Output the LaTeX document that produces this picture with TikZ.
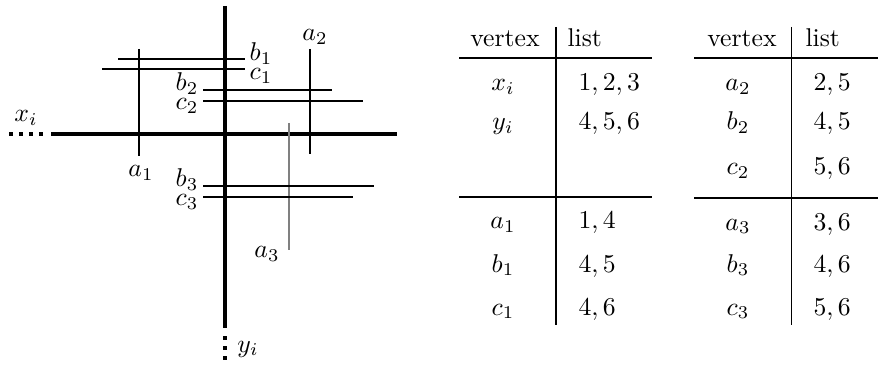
\documentclass[tikz,border=0pt]{standalone}
\begin{document}
\begin{tikzpicture}[x=0.389pt,y=-0.389pt,
  seg/.style={line width=0.4pt},
  axis/.style={line width=1.2pt},
  dotline/.style={line width=1.2pt,dash pattern=on 1.5pt off 2.45pt},
  lbl/.style={inner sep=0pt},
  cell/.style={inner sep=0pt,anchor=base},
  lcell/.style={inner sep=0pt,anchor=base west},
  rule/.style={line width=0.4pt}]
\useasboundingbox (0,0) rectangle (878,367);
% ---------- left figure ----------
% axes
\draw[axis] (51,134) -- (397,134);
\draw[dotline] (9,134) -- (48,134);
\draw[axis] (225,6) -- (225,328);
\draw[dotline] (225,336) -- (225,363);
\node[lbl] (xi) at (26,118) {$x_i$};
\node[lbl] (yi) at (248,349) {$y_i$};
% vertical segments
\draw[seg] (139,49) -- (139,156);
\node[lbl] (a1) at (141,173) {$a_1$};
\draw[seg] (310,49) -- (310,154);
\node[lbl] (a2) at (315,37) {$a_2$};
\draw[seg,gray] (289,123) -- (289,250);
\node[lbl] (a3) at (267,254) {$a_3$};
% horizontal segments
\draw[seg] (118,59) -- (245,59);
\node[lbl] (b1) at (261,54) {$b_1$};
\draw[seg] (102,69) -- (245,69);
\node[lbl] (c1) at (261,76) {$c_1$};
\draw[seg] (203,90) -- (332,90);
\node[lbl] (b2) at (187,84) {$b_2$};
\draw[seg] (203,101) -- (363,101);
\node[lbl] (c2) at (187,106) {$c_2$};
\draw[seg] (203,186) -- (374,186);
\node[lbl] (b3) at (187,180) {$b_3$};
\draw[seg] (203,197) -- (353,197);
\node[lbl] (c3) at (187,202) {$c_3$};
% ---------- table 1 ----------
\draw[rule] (556,27) -- (556,325);
\draw[rule] (459,58) -- (652,58);
\draw[rule] (459,197) -- (652,197);
\node[cell] (h1v) at (505,47) {vertex};
\node[lcell] (h1l) at (567,47) {list};
\node[cell] (t1r1) at (503,91) {$x_i$};
\node[lcell] (t1v1) at (578,91) {$1,2,3$};
\node[cell] (t1r2) at (503,130) {$y_i$};
\node[lcell] (t1v2) at (578,130) {$4,5,6$};
\node[cell] (t1r3) at (503,229) {$a_1$};
\node[lcell] (t1v3) at (578,229) {$1,4$};
\node[cell] (t1r4) at (503,272) {$b_1$};
\node[lcell] (t1v4) at (578,272) {$4,5$};
\node[cell] (t1r5) at (503,315) {$c_1$};
\node[lcell] (t1v5) at (578,315) {$4,6$};
% ---------- table 2 ----------
\draw[rule] (791,27) -- (791,325);
\draw[rule] (694,58) -- (878,58);
\draw[rule] (694,198) -- (878,198);
\node[cell] (h2v) at (742,47) {vertex};
\node[lcell] (h2l) at (805,47) {list};
\node[cell] (t2r1) at (738,91) {$a_2$};
\node[lcell] (t2v1) at (813,91) {$2,5$};
\node[cell] (t2r2) at (738,130) {$b_2$};
\node[lcell] (t2v2) at (813,130) {$4,5$};
\node[cell] (t2r3) at (738,175) {$c_2$};
\node[lcell] (t2v3) at (813,175) {$5,6$};
\node[cell] (t2r4) at (738,230) {$a_3$};
\node[lcell] (t2v4) at (813,230) {$3,6$};
\node[cell] (t2r5) at (738,272) {$b_3$};
\node[lcell] (t2v5) at (813,272) {$4,6$};
\node[cell] (t2r6) at (738,315) {$c_3$};
\node[lcell] (t2v6) at (813,315) {$5,6$};
\end{tikzpicture}
\end{document}
